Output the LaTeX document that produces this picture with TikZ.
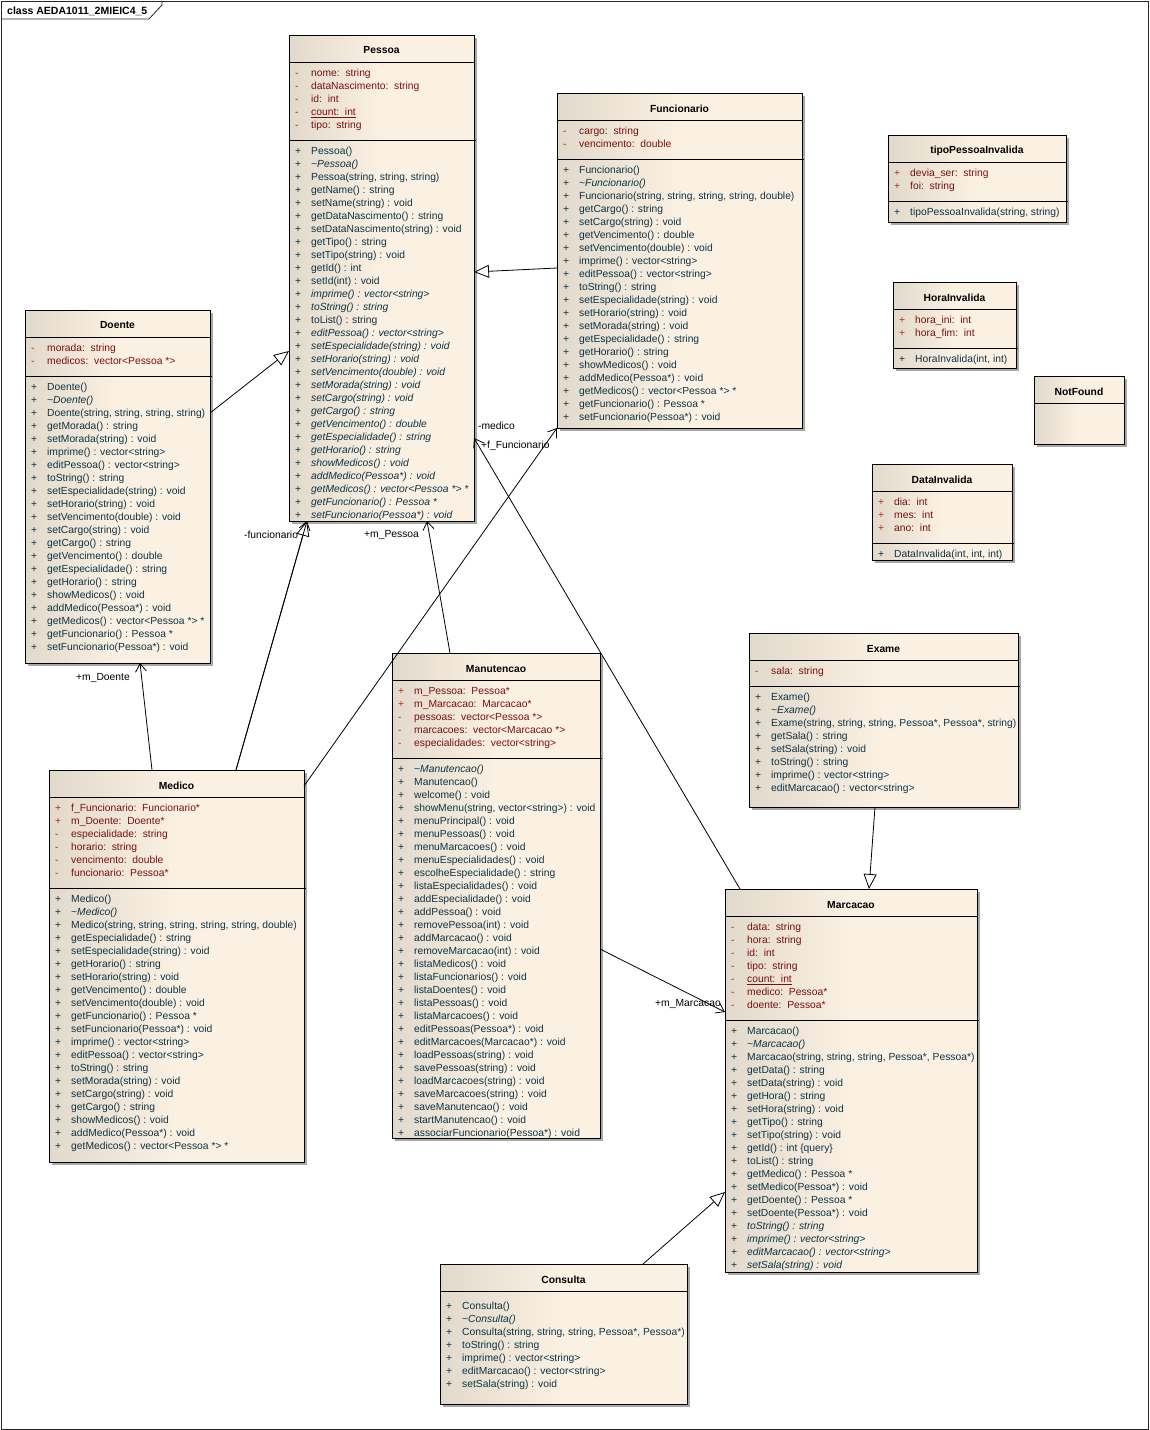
\documentclass[tikz,border=0pt]{standalone}
\usepackage{fontspec}
\setmainfont{Liberation Sans}
\usetikzlibrary{arrows.meta,calc}
\definecolor{attrc}{RGB}{125,15,15}
\definecolor{attrsym}{RGB}{185,45,15}
\definecolor{methc}{RGB}{12,52,72}
\definecolor{shadowc}{RGB}{168,168,168}
\definecolor{boxl}{RGB}{225,217,203}
\definecolor{boxr}{RGB}{251,241,226}
\newcommand\fs{\fontsize{10.3}{12}\selectfont}
\newcount\ry
\gdef\bx{0}\gdef\by{0}\gdef\bw{0}
\newcommand\ucls[6]{%
 \gdef\bx{#2}\gdef\by{#3}\gdef\bw{#4}%
 \fill[shadowc] (#2+3,#3+3) rectangle ++(#4,#5);
 \node[classbox, minimum width=#4pt, minimum height=#5pt] (#1) at (#2,#3) {};
 \node[titletxt] (#1-t) at (#2+#4/2,#3+15.5) {#6};
 \draw[sepline] (#2,#3+27) -- ++(#4,0);
 \global\ry=\numexpr#3+37\relax}
\newcommand\uatt[3][]{%
 \node[rowtxt,text=attrsym] at (\bx+6,\the\ry+1.8) {#2};
 \node[rowtxt,text=attrc,#1] at (\bx+22,\the\ry+1.8) {#3};
 \global\advance\ry by 13\relax}
\newcommand\umet[3][]{%
 \node[rowtxt,text=methc] at (\bx+6,\the\ry+1.8) {#2};
 \node[rowtxt,text=methc,#1] at (\bx+22,\the\ry+1.8) {#3};
 \global\advance\ry by 13\relax}
\newcommand\usep{%
 \draw[sepline] (\bx,\the\ry+3.5) -- ++(\bw+2,0);
 \global\advance\ry by 13\relax}
\newcommand\tl{\textasciitilde}
\tikzset{
 classbox/.style={draw=black, line width=0.9pt, inner sep=0pt, outer sep=0pt, anchor=north west,
   left color=boxl, right color=boxr, middle color=boxr},
 titletxt/.style={font=\fs\bfseries, inner sep=0pt, text=black},
 rowtxt/.style={anchor=west, inner sep=0pt, font=\fs, text height=7.5pt, text depth=2pt},
 ital/.style={font=\fs\itshape},
 sepline/.style={draw=black, line width=0.9pt},
 conn/.style={draw=black, line width=0.8pt},
 assoc/.style={conn, -{Straight Barb[length=8pt,width=11pt,line width=0.8pt]}},
 gen/.style={conn, -{Triangle[open,length=15pt,width=13pt,fill=white,line width=0.8pt]}},
 lbl/.style={anchor=west, inner sep=0pt, font=\fs, text=black}
}
\begin{document}
\begin{tikzpicture}[x=1pt,y=-1pt]
\useasboundingbox (0,0) rectangle (1149,1430);
\fill[white] (0,0) rectangle (1149,1430);
\draw[black!85, line width=0.8pt] (1,1) rectangle (1148,1429);
\draw[black!85, line width=0.8pt] (1,19) -- (149,19) -- (162,5) -- (162,1);
\node[anchor=west, inner sep=0pt, font=\fontsize{10.5}{12}\selectfont\bfseries] (frametitle) at (7,11) {class AEDA1011\_2MIEIC4\_5};

% ---------- Pessoa
\ucls{pessoa}{289}{35}{185}{486}{Pessoa}
\uatt{-}{nome:~~string}
\uatt{-}{dataNascimento:~~string}
\uatt{-}{id:~~int}
\uatt{-}{\underline{count:~~int}}
\uatt{-}{tipo:~~string}
\usep
\umet{+}{Pessoa()}
\umet[ital]{+}{\tl Pessoa()}
\umet{+}{Pessoa(string, string, string)}
\umet{+}{getName() : string}
\umet{+}{setName(string) : void}
\umet{+}{getDataNascimento() : string}
\umet{+}{setDataNascimento(string) : void}
\umet{+}{getTipo() : string}
\umet{+}{setTipo(string) : void}
\umet{+}{getId() : int}
\umet{+}{setId(int) : void}
\umet[ital]{+}{imprime() : vector<string>}
\umet[ital]{+}{toString() : string}
\umet{+}{toList() : string}
\umet[ital]{+}{editPessoa() : vector<string>}
\umet[ital]{+}{setEspecialidade(string) : void}
\umet[ital]{+}{setHorario(string) : void}
\umet[ital]{+}{setVencimento(double) : void}
\umet[ital]{+}{setMorada(string) : void}
\umet[ital]{+}{setCargo(string) : void}
\umet[ital]{+}{getCargo() : string}
\umet[ital]{+}{getVencimento() : double}
\umet[ital]{+}{getEspecialidade() : string}
\umet[ital]{+}{getHorario() : string}
\umet[ital]{+}{showMedicos() : void}
\umet[ital]{+}{addMedico(Pessoa*) : void}
\umet[ital]{+}{getMedicos() : vector<Pessoa *> *}
\umet[ital]{+}{getFuncionario() : Pessoa *}
\umet[ital]{+}{setFuncionario(Pessoa*) : void}

% ---------- Funcionario
\ucls{func}{557}{93}{245}{335}{Funcionario}
\uatt{-}{cargo:~~string}
\uatt{-}{vencimento:~~double}
\usep
\umet{+}{Funcionario()}
\umet[ital]{+}{\tl Funcionario()}
\umet{+}{Funcionario(string, string, string, string, double)}
\umet{+}{getCargo() : string}
\umet{+}{setCargo(string) : void}
\umet{+}{getVencimento() : double}
\umet{+}{setVencimento(double) : void}
\umet{+}{imprime() : vector<string>}
\umet{+}{editPessoa() : vector<string>}
\umet{+}{toString() : string}
\umet{+}{setEspecialidade(string) : void}
\umet{+}{setHorario(string) : void}
\umet{+}{setMorada(string) : void}
\umet{+}{getEspecialidade() : string}
\umet{+}{getHorario() : string}
\umet{+}{showMedicos() : void}
\umet{+}{addMedico(Pessoa*) : void}
\umet{+}{getMedicos() : vector<Pessoa *> *}
\umet{+}{getFuncionario() : Pessoa *}
\umet{+}{setFuncionario(Pessoa*) : void}

% ---------- Doente
\ucls{doente}{25}{310}{185}{353}{Doente}
\uatt{-}{morada:~~string}
\uatt{-}{medicos:~~vector<Pessoa *>}
\usep
\umet{+}{Doente()}
\umet[ital]{+}{\tl Doente()}
\umet{+}{Doente(string, string, string, string)}
\umet{+}{getMorada() : string}
\umet{+}{setMorada(string) : void}
\umet{+}{imprime() : vector<string>}
\umet{+}{editPessoa() : vector<string>}
\umet{+}{toString() : string}
\umet{+}{setEspecialidade(string) : void}
\umet{+}{setHorario(string) : void}
\umet{+}{setVencimento(double) : void}
\umet{+}{setCargo(string) : void}
\umet{+}{getCargo() : string}
\umet{+}{getVencimento() : double}
\umet{+}{getEspecialidade() : string}
\umet{+}{getHorario() : string}
\umet{+}{showMedicos() : void}
\umet{+}{addMedico(Pessoa*) : void}
\umet{+}{getMedicos() : vector<Pessoa *> *}
\umet{+}{getFuncionario() : Pessoa *}
\umet{+}{setFuncionario(Pessoa*) : void}

% ---------- exceptions
\ucls{tipoinv}{888}{135}{178}{87}{tipoPessoaInvalida}
\uatt{+}{devia\_ser:~~string}
\uatt{+}{foi:~~string}
\usep
\umet{+}{tipoPessoaInvalida(string, string)}

\ucls{horainv}{893}{282}{123}{86}{HoraInvalida}
\uatt{+}{hora\_ini:~~int}
\uatt{+}{hora\_fim:~~int}
\usep
\umet{+}{HoraInvalida(int, int)}

\ucls{notfound}{1034}{376}{90}{68}{NotFound}

\ucls{datainv}{872}{464}{140}{96}{DataInvalida}
\uatt{+}{dia:~~int}
\uatt{+}{mes:~~int}
\uatt{+}{ano:~~int}
\usep
\umet{+}{DataInvalida(int, int, int)}

% ---------- Medico
\ucls{medico}{49}{770}{255}{392}{Medico}
\uatt{+}{f\_Funcionario:~~Funcionario*}
\uatt{+}{m\_Doente:~~Doente*}
\uatt{-}{especialidade:~~string}
\uatt{-}{horario:~~string}
\uatt{-}{vencimento:~~double}
\uatt{-}{funcionario:~~Pessoa*}
\usep
\umet{+}{Medico()}
\umet[ital]{+}{\tl Medico()}
\umet{+}{Medico(string, string, string, string, string, double)}
\umet{+}{getEspecialidade() : string}
\umet{+}{setEspecialidade(string) : void}
\umet{+}{getHorario() : string}
\umet{+}{setHorario(string) : void}
\umet{+}{getVencimento() : double}
\umet{+}{setVencimento(double) : void}
\umet{+}{getFuncionario() : Pessoa *}
\umet{+}{setFuncionario(Pessoa*) : void}
\umet{+}{imprime() : vector<string>}
\umet{+}{editPessoa() : vector<string>}
\umet{+}{toString() : string}
\umet{+}{setMorada(string) : void}
\umet{+}{setCargo(string) : void}
\umet{+}{getCargo() : string}
\umet{+}{showMedicos() : void}
\umet{+}{addMedico(Pessoa*) : void}
\umet{+}{getMedicos() : vector<Pessoa *> *}

% ---------- Manutencao
\ucls{manut}{392}{653}{208}{485}{Manutencao}
\uatt{+}{m\_Pessoa:~~Pessoa*}
\uatt{+}{m\_Marcacao:~~Marcacao*}
\uatt{-}{pessoas:~~vector<Pessoa *>}
\uatt{-}{marcacoes:~~vector<Marcacao *>}
\uatt{-}{especialidades:~~vector<string>}
\usep
\umet[ital]{+}{\tl Manutencao()}
\umet{+}{Manutencao()}
\umet{+}{welcome() : void}
\umet{+}{showMenu(string, vector<string>) : void}
\umet{+}{menuPrincipal() : void}
\umet{+}{menuPessoas() : void}
\umet{+}{menuMarcacoes() : void}
\umet{+}{menuEspecialidades() : void}
\umet{+}{escolheEspecialidade() : string}
\umet{+}{listaEspecialidades() : void}
\umet{+}{addEspecialidade() : void}
\umet{+}{addPessoa() : void}
\umet{+}{removePessoa(int) : void}
\umet{+}{addMarcacao() : void}
\umet{+}{removeMarcacao(int) : void}
\umet{+}{listaMedicos() : void}
\umet{+}{listaFuncionarios() : void}
\umet{+}{listaDoentes() : void}
\umet{+}{listaPessoas() : void}
\umet{+}{listaMarcacoes() : void}
\umet{+}{editPessoas(Pessoa*) : void}
\umet{+}{editMarcacoes(Marcacao*) : void}
\umet{+}{loadPessoas(string) : void}
\umet{+}{savePessoas(string) : void}
\umet{+}{loadMarcacoes(string) : void}
\umet{+}{saveMarcacoes(string) : void}
\umet{+}{saveManutencao() : void}
\umet{+}{startManutencao() : void}
\umet{+}{associarFuncionario(Pessoa*) : void}

% ---------- Exame
\ucls{exame}{749}{633}{269}{174}{Exame}
\uatt{-}{sala:~~string}
\usep
\umet{+}{Exame()}
\umet[ital]{+}{\tl Exame()}
\umet{+}{Exame(string, string, string, Pessoa*, Pessoa*, string)}
\umet{+}{getSala() : string}
\umet{+}{setSala(string) : void}
\umet{+}{toString() : string}
\umet{+}{imprime() : vector<string>}
\umet{+}{editMarcacao() : vector<string>}

% ---------- Marcacao
\ucls{marc}{725}{889}{252}{383}{Marcacao}
\uatt{-}{data:~~string}
\uatt{-}{hora:~~string}
\uatt{-}{id:~~int}
\uatt{-}{tipo:~~string}
\uatt{-}{\underline{count:~~int}}
\uatt{-}{medico:~~Pessoa*}
\uatt{-}{doente:~~Pessoa*}
\usep
\umet{+}{Marcacao()}
\umet[ital]{+}{\tl Marcacao()}
\umet{+}{Marcacao(string, string, string, Pessoa*, Pessoa*)}
\umet{+}{getData() : string}
\umet{+}{setData(string) : void}
\umet{+}{getHora() : string}
\umet{+}{setHora(string) : void}
\umet{+}{getTipo() : string}
\umet{+}{setTipo(string) : void}
\umet{+}{getId() : int \{query\}}
\umet{+}{toList() : string}
\umet{+}{getMedico() : Pessoa *}
\umet{+}{setMedico(Pessoa*) : void}
\umet{+}{getDoente() : Pessoa *}
\umet{+}{setDoente(Pessoa*) : void}
\umet[ital]{+}{toString() : string}
\umet[ital]{+}{imprime() : vector<string>}
\umet[ital]{+}{editMarcacao() : vector<string>}
\umet[ital]{+}{setSala(string) : void}

% ---------- Consulta
\ucls{consulta}{440}{1264}{247}{140}{Consulta}
\global\ry=1305\relax
\umet{+}{Consulta()}
\umet[ital]{+}{\tl Consulta()}
\umet{+}{Consulta(string, string, string, Pessoa*, Pessoa*)}
\umet{+}{toString() : string}
\umet{+}{imprime() : vector<string>}
\umet{+}{editMarcacao() : vector<string>}
\umet{+}{setSala(string) : void}

% ---------- connectors
\draw[gen] ($(doente.north east)+(0,103)$) -- ($(pessoa.north west)+(0,316)$);
\draw[gen] ($(func.north west)+(0,175)$) -- ($(pessoa.north east)+(0,237)$);
\draw[gen] ($(medico.north west)+(187,0)$) -- ($(pessoa.south west)+(18,0)$);
\draw[assoc] ($(medico.north west)+(187,0)$) -- ($(pessoa.south west)+(18,0)$);
\draw[assoc] ($(medico.north west)+(103,0)$) -- ($(doente.south west)+(115,0)$);
\draw[assoc] ($(medico.north east)+(0,16)$) -- (func.south west);
\draw[assoc] ($(manut.north west)+(58,0)$) -- ($(pessoa.south west)+(138,0)$);
\draw[assoc] ($(marc.north west)+(15,0)$) -- ($(pessoa.north east)+(0,403)$);
\draw[assoc] ($(manut.north east)+(0,296)$) -- ($(marc.north west)+(0,123)$);
\draw[gen] ($(exame.south west)+(126,0)$) -- ($(marc.north west)+(144,0)$);
\draw[gen] ($(consulta.north west)+(203,0)$) -- ($(marc.north west)+(0,303)$);

\node[lbl] (l1) at (478,426) {-medico};
\node[lbl] (l2) at (481,446) {+f\_Funcionario};
\node[lbl] (l3) at (244,535) {-funcionario};
\node[lbl] (l4) at (364,535) {+m\_Pessoa};
\node[lbl] (l5) at (76,678) {+m\_Doente};
\node[lbl] (l6) at (655,1004) {+m\_Marcacao};
\end{tikzpicture}
\end{document}
